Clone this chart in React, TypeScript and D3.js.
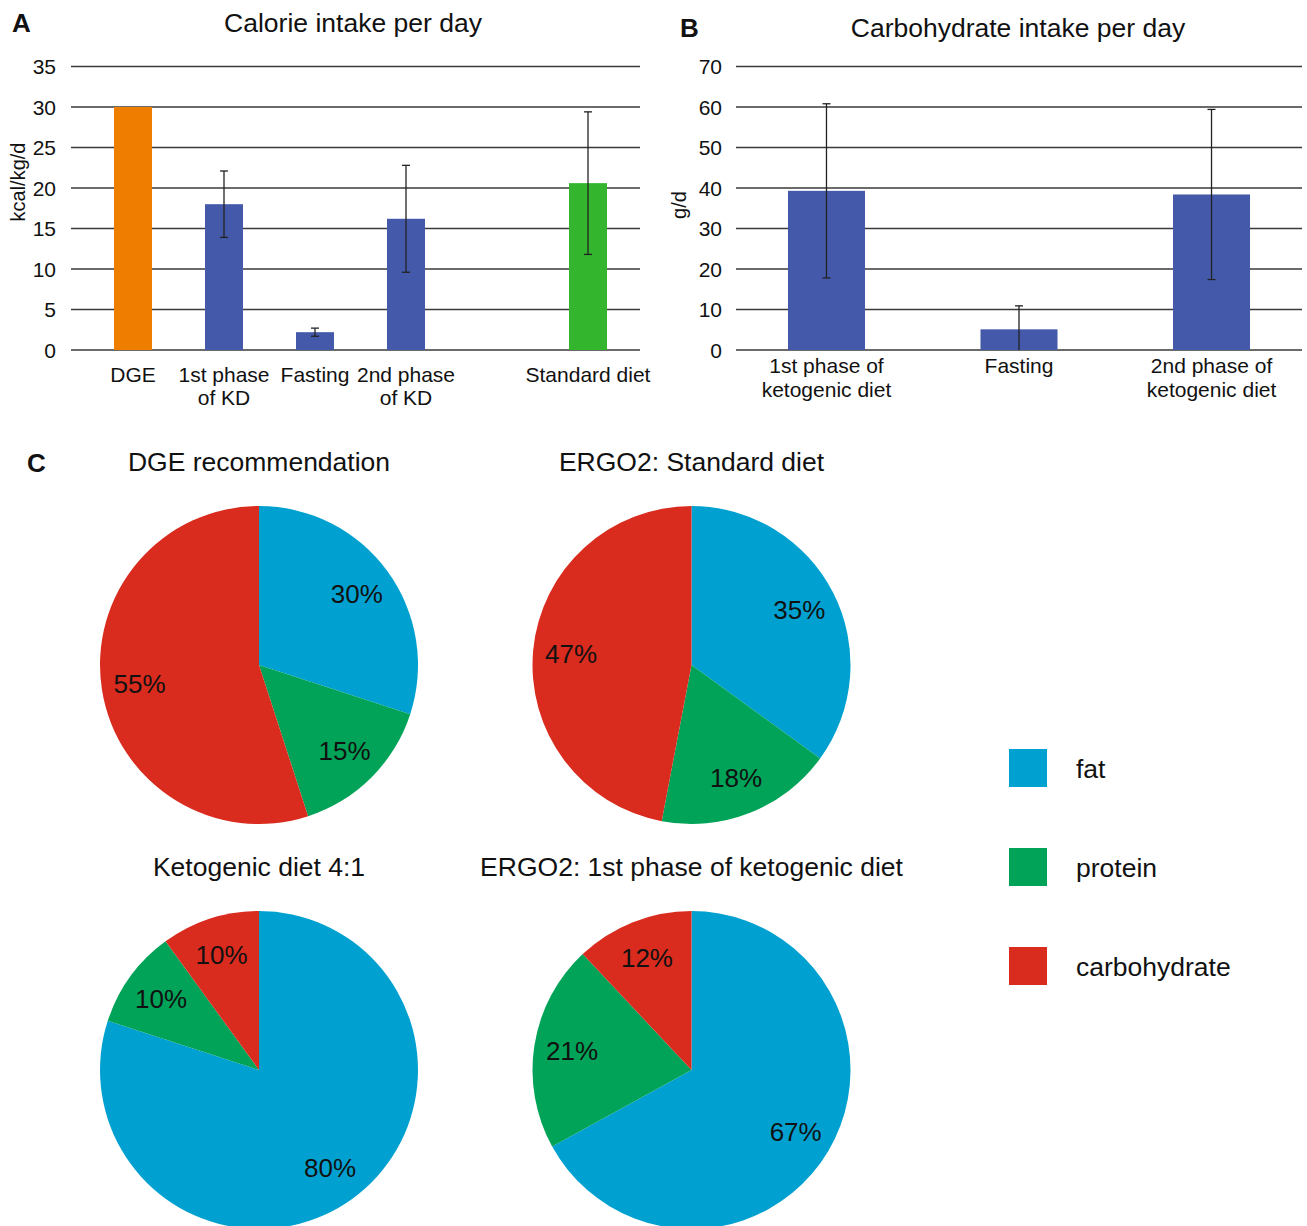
import React from "react";
import * as d3 from "d3";

// ---------- Panel A data ----------
const calorieCategories = ["DGE", "1st phase\nof KD", "Fasting", "2nd phase\nof KD", "", "Standard diet"];
const calorieBars = ["DGE", "1st phase\nof KD", "Fasting", "2nd phase\nof KD", "Standard diet"];
const calorieValues = [30, 18, 2.2, 16.2, 20.6];
const calorieErrors = [0, 4.1, 0.5, 6.6, 8.8];
const calorieGroups = ["DGE", "KD", "KD", "KD", "Standard"];
const calorieTicks = [0, 5, 10, 15, 20, 25, 30, 35];

// ---------- Panel B data ----------
const carbCategories = ["1st phase of\nketogenic diet", "Fasting", "2nd phase of\nketogenic diet"];
const carbValues = [39.3, 5.1, 38.4];
const carbErrors = [21.5, 5.8, 21.0];
const carbTicks = [0, 10, 20, 30, 40, 50, 60, 70];

// ---------- Panel C data ----------
const macroNames = ["fat", "protein", "carbohydrate"];
const pieTitles = [
  "DGE recommendation",
  "ERGO2: Standard diet",
  "Ketogenic diet 4:1",
  "ERGO2: 1st phase of ketogenic diet",
];
const dgeShares = [30, 15, 55];
const standardShares = [35, 18, 47];
const ketoShares = [80, 10, 10];
const ergoKetoShares = [67, 21, 12];

const FONT = "'Liberation Sans', Arial, Helvetica, sans-serif";
const barColor = d3.scaleOrdinal<string, string>().domain(["DGE", "KD", "Standard"]).range(["#EE7D00", "#4459AA", "#33B62E"]);
const macroColor = d3.scaleOrdinal<string, string>().domain(macroNames).range(["#00A1D0", "#00A357", "#D92B1E"]);

const GRID = "#3a3a3a";

function MultiLine({ x, y, text, size, lh }: { x: number; y: number; text: string; size: number; lh: number }) {
  const lines = text.split("\n");
  return (
    <text x={x} y={y} textAnchor="middle" fontSize={size} fontFamily={FONT} fill="#111">
      {lines.map((l, i) => (
        <tspan key={i} x={x} dy={i === 0 ? 0 : lh}>
          {l}
        </tspan>
      ))}
    </text>
  );
}

function PanelA() {
  const x0 = 71, x1 = 640, yBase = 350, yTop = 66.5;
  const y = d3.scaleLinear().domain([0, 35]).range([yBase, yTop]);
  const x = d3.scalePoint<string>().domain(calorieCategories).range([87.5, 633.5]).padding(0.5);
  const bw = 38;
  return (
    <g>
      <text x={12} y={32} fontSize={26} fontWeight="bold" fontFamily={FONT} fill="#111">A</text>
      <text x={353} y={32} textAnchor="middle" fontSize={26.5} fontFamily={FONT} fill="#111">Calorie intake per day</text>
      <text transform={`translate(25,182) rotate(-90)`} textAnchor="middle" fontSize={20} fontFamily={FONT} fill="#111">kcal/kg/d</text>
      {calorieTicks.map((t) => (
        <g key={t}>
          <line x1={x0} x2={x1} y1={y(t)} y2={y(t)} stroke={GRID} strokeWidth={1.7} />
          <text x={56} y={y(t)} dy="0.36em" textAnchor="end" fontSize={21} fontFamily={FONT} fill="#111">{t}</text>
        </g>
      ))}
      {calorieBars.map((c, i) => {
        const cx = x(c)!;
        const v = calorieValues[i];
        const e = calorieErrors[i];
        return (
          <g key={c}>
            <rect x={cx - bw / 2} y={y(v)} width={bw} height={yBase - y(v)} fill={barColor(calorieGroups[i])} />
            {e > 0 && (
              <g stroke="#222" strokeWidth={1.3}>
                <line x1={cx} x2={cx} y1={y(v + e)} y2={y(Math.max(0, v - e))} />
                <line x1={cx - 4} x2={cx + 4} y1={y(v + e)} y2={y(v + e)} />
                <line x1={cx - 4} x2={cx + 4} y1={y(v - e)} y2={y(v - e)} />
              </g>
            )}
            <MultiLine x={cx} y={382} text={c} size={21} lh={23} />
          </g>
        );
      })}
    </g>
  );
}

function PanelB() {
  const x0 = 736, x1 = 1302, yBase = 350, yTop = 66.5;
  const y = d3.scaleLinear().domain([0, 70]).range([yBase, yTop]);
  const x = d3.scaleBand<string>().domain(carbCategories).range([x0, x1]).paddingInner(0.6).paddingOuter(0.27);
  const bw = x.bandwidth();
  return (
    <g>
      <text x={680} y={37} fontSize={26} fontWeight="bold" fontFamily={FONT} fill="#111">B</text>
      <text x={1018} y={37} textAnchor="middle" fontSize={26.5} fontFamily={FONT} fill="#111">Carbohydrate intake per day</text>
      <text transform={`translate(686,205) rotate(-90)`} textAnchor="middle" fontSize={20} fontFamily={FONT} fill="#111">g/d</text>
      {carbTicks.map((t) => (
        <g key={t}>
          <line x1={x0} x2={x1} y1={y(t)} y2={y(t)} stroke={GRID} strokeWidth={1.7} />
          <text x={722} y={y(t)} dy="0.36em" textAnchor="end" fontSize={21} fontFamily={FONT} fill="#111">{t}</text>
        </g>
      ))}
      {carbCategories.map((c, i) => {
        const bx = x(c)!;
        const cx = bx + bw / 2;
        const v = carbValues[i];
        const e = carbErrors[i];
        return (
          <g key={c}>
            <rect x={bx} y={y(v)} width={bw} height={yBase - y(v)} fill="#4459AA" />
            <g stroke="#222" strokeWidth={1.3}>
              <line x1={cx} x2={cx} y1={y(v + e)} y2={y(Math.max(0, v - e))} />
              <line x1={cx - 4} x2={cx + 4} y1={y(v + e)} y2={y(v + e)} />
              {v - e > 0 && <line x1={cx - 4} x2={cx + 4} y1={y(v - e)} y2={y(v - e)} />}
            </g>
            <MultiLine x={cx} y={373} text={c} size={21} lh={24} />
          </g>
        );
      })}
    </g>
  );
}

function Pie({ cx, cy, title, titleY, shares }: { cx: number; cy: number; title: string; titleY: number; shares: number[] }) {
  const r = 159;
  const pie = d3.pie<number>().sort(null).value((d) => d);
  const arcs = pie(shares);
  const arc = d3.arc<d3.PieArcDatum<number>>().innerRadius(0).outerRadius(r);
  const labelArc = d3.arc<d3.PieArcDatum<number>>().innerRadius(121).outerRadius(121);
  return (
    <g>
      <text x={cx} y={titleY} textAnchor="middle" fontSize={26.5} fontFamily={FONT} fill="#111">{title}</text>
      <g transform={`translate(${cx},${cy})`}>
        {arcs.map((a, i) => (
          <path key={i} d={arc(a)!} fill={macroColor(macroNames[i])} />
        ))}
        {arcs.map((a, i) => {
          const [lx, ly] = labelArc.centroid(a);
          return (
            <text key={"l" + i} x={lx} y={ly} dy="0.36em" textAnchor="middle" fontSize={26} fontFamily={FONT} fill="#111">
              {shares[i]}%
            </text>
          );
        })}
      </g>
    </g>
  );
}

function PanelC() {
  const allShares = [dgeShares, standardShares, ketoShares, ergoKetoShares];
  const col = d3.scalePoint<number>().domain([0, 1]).range([259, 691.5]);
  const row = d3.scalePoint<number>().domain([0, 1]).range([665, 1070]);
  return (
    <g>
      <text x={27} y={472} fontSize={26} fontWeight="bold" fontFamily={FONT} fill="#111">C</text>
      {allShares.map((s, i) => {
        const r = Math.floor(i / 2);
        return (
          <Pie key={i} cx={col(i % 2)!} cy={row(r)!} title={pieTitles[i]} titleY={row(r)! - 194} shares={s} />
        );
      })}
      {macroNames.map((m, i) => {
        const yc = 768 + i * 99;
        return (
          <g key={m}>
            <rect x={1009} y={yc - 19} width={38} height={38} fill={macroColor(m)} />
            <text x={1076} y={yc} dy="0.36em" fontSize={26.5} fontFamily={FONT} fill="#111">{m}</text>
          </g>
        );
      })}
    </g>
  );
}

export default function App() {
  return (
    <svg
      width={1307}
      height={1226}
      viewBox="0 0 1307 1226"
      style={{ position: "absolute", left: 0, top: 0, background: "#fff" }}
    >
      <rect width={1307} height={1226} fill="#fff" />
      <PanelA />
      <PanelB />
      <PanelC />
    </svg>
  );
}
